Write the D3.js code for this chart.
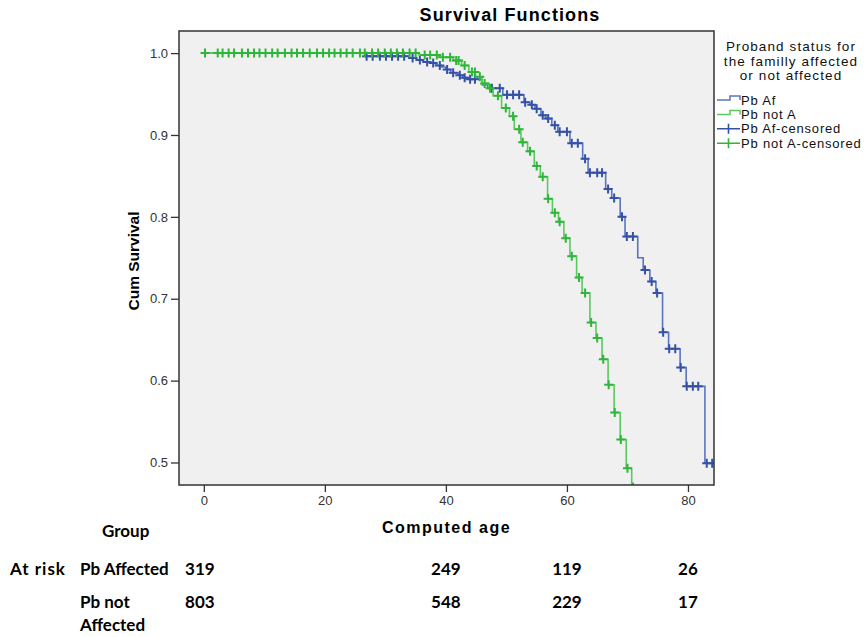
<!DOCTYPE html>
<html>
<head>
<meta charset="utf-8">
<script src="https://cdn.jsdelivr.net/npm/d3@7"></script>
<style>
    body{margin:0;background:#fff;}
    svg{display:block;}
</style>
</head>
<body>
<div class="chart-container"></div>
<script>

//step events: [age, survival after the drop]
const affectedEvents = [
    [26.6,0.9963],[34.0,0.9939],[35.2,0.9915],[36.2,0.989],[37.4,0.988],[38.3,0.985],
    [39.2,0.983],[40.0,0.980],[40.8,0.976],[42.0,0.973],[42.8,0.970],[43.6,0.968],
    [46.0,0.961],[46.9,0.957],[49.4,0.949],[52.9,0.940],[53.9,0.937],[54.7,0.932],
    [55.7,0.924],[56.5,0.920],[57.5,0.912],[58.5,0.904],[60.5,0.890],[62.6,0.871],
    [63.5,0.854],[66.4,0.834],[67.4,0.823],[68.8,0.800],[69.6,0.776],[71.7,0.750],
    [72.6,0.735],[73.7,0.721],[74.7,0.707],[75.8,0.659],[76.8,0.639],[78.7,0.616],
    [79.7,0.593],[82.8,0.499]
];
const affectedCensored = [
    26.9,27.9,29.1,30.1,31.1,32.1,33.1,34.5,35.7,36.9,37.9,39.0,40.2,41.2,42.3,43.1,
    44.0,44.8,47.6,48.9,50.1,51.1,52.1,53.1,54.2,55.0,56.0,56.9,58.0,58.8,60.0,60.8,
    61.8,63.0,63.8,65.0,65.8,66.8,67.8,69.1,69.9,70.9,72.9,74.0,74.9,75.9,76.9,77.9,
    78.8,79.8,80.8,81.7,83.1,84.0
];
const notAffectedEvents = [
    [35.5,0.9976],[38.8,0.995],[41.2,0.991],[42.6,0.985],[43.8,0.977],[44.9,0.971],
    [46.0,0.963],[47.1,0.957],[47.8,0.948],[49.2,0.933],[50.5,0.923],[51.3,0.907],
    [52.4,0.891],[53.5,0.880],[54.6,0.862],[55.6,0.849],[56.8,0.822],[57.6,0.805],
    [58.6,0.794],[59.5,0.774],[60.5,0.752],[61.6,0.726],[62.5,0.707],[63.8,0.671],
    [64.8,0.652],[65.8,0.626],[66.8,0.595],[67.8,0.561],[68.8,0.528],[69.8,0.493],
    [70.7,0.470]
];
const notAffectedCensored = [
    0.2,2.3,3.1,4.1,5.0,6.3,7.3,8.3,9.2,10.2,11.3,12.2,13.4,14.5,15.4,16.4,17.5,18.7,
    19.7,20.7,21.6,22.6,23.6,24.6,25.8,26.6,27.8,28.8,29.9,30.9,31.9,32.9,34.0,35.0,
    36.5,37.4,38.5,39.5,40.7,41.7,42.1,43.1,44.3,44.8,45.6,46.4,47.3,48.6,49.9,51.1,
    52.1,52.7,53.9,55.0,56.0,56.9,58.0,58.8,59.8,60.8,62.0,63.0,64.0,65.0,66.0,66.9,
    67.9,68.9,70.0,70.9
];

const yTicks = [0.5,0.6,0.7,0.8,0.9,1.0];
const xTicks = [0,20,40,60,80];
const legendTitle = ['Proband status for','the familly affected','or not affected'];
const legendLabels = ['Pb Af','Pb not A','Pb Af-censored','Pb not A-censored'];

//at risk table
const riskAges = [0,40,60,80];
const riskAffected = [319,249,119,26];
const riskNotAffected = [803,548,229,17];

const W = 866, H = 637;
const plot = {l:179,r:714,t:31,b:485};
const blueLine = '#5b74bf', blueMark = '#3551a6';
const greenLine = '#5cc862', greenMark = '#2fb53a';
const arial = '"Liberation Sans", Arial, sans-serif';
const calibri = 'Lato, "Open Sans", sans-serif';

const svg = d3.select('.chart-container').append('svg')
    .attr('width',W)
    .attr('height',H);

const scaleX = d3.scaleLinear().domain([-4.1,84.3]).range([plot.l,plot.r]);
const scaleY = d3.scaleLinear().domain([0.4725,1.027]).range([plot.b,plot.t]);

//plot background
svg.append('rect')
    .attr('x',plot.l).attr('y',plot.t)
    .attr('width',plot.r-plot.l).attr('height',plot.b-plot.t)
    .attr('fill','#f0f0f0');

svg.append('clipPath').attr('id','plot-clip')
    .append('rect')
    .attr('x',plot.l).attr('y',plot.t)
    .attr('width',plot.r-plot.l).attr('height',plot.b-plot.t);

const inner = svg.append('g').attr('clip-path','url(#plot-clip)');

function stepValue(events,age){
    let s = 1;
    events.forEach(e => { if(e[0] <= age) s = e[1]; });
    return s;
}

const line = d3.line()
    .x(d => scaleX(d[0]))
    .y(d => scaleY(d[1]))
    .curve(d3.curveStepAfter);

function drawCurve(events,censored,lineColor,markColor,endAge){
    const pts = [[0,1]].concat(events);
    pts.push([endAge,events[events.length-1][1]]);
    inner.append('path')
        .datum(pts)
        .attr('d',line)
        .attr('fill','none')
        .attr('stroke',lineColor)
        .attr('stroke-width',1.6);
    const marks = inner.append('g');
    censored.forEach(a => {
        const cx = scaleX(a), cy = scaleY(stepValue(events,a));
        marks.append('path')
            .attr('d',`M${cx-4.5},${cy}H${cx+4.5}M${cx},${cy-4.5}V${cy+4.5}`)
            .attr('stroke',markColor)
            .attr('stroke-width',2);
    });
}

drawCurve(affectedEvents,affectedCensored,blueLine,blueMark,86);
drawCurve(notAffectedEvents,notAffectedCensored,greenLine,greenMark,73);

//frame
svg.append('rect')
    .attr('x',plot.l).attr('y',plot.t)
    .attr('width',plot.r-plot.l).attr('height',plot.b-plot.t)
    .attr('fill','none')
    .attr('stroke','#333')
    .attr('stroke-width',1.5);

//axes
const axisY = d3.axisLeft(scaleY).tickValues(yTicks).tickFormat(d3.format('.1f')).tickSize(8).tickPadding(3);
const gy = svg.append('g').attr('transform',`translate(${plot.l},0)`).call(axisY);
const axisX = d3.axisBottom(scaleX).tickValues(xTicks).tickSize(7).tickPadding(4);
const gx = svg.append('g').attr('transform',`translate(0,${plot.b})`).call(axisX);
[gy,gx].forEach(g => {
    g.select('.domain').remove();
    g.selectAll('line').attr('stroke','#333').attr('stroke-width',1.3);
    g.selectAll('text').attr('font-family',arial).attr('font-size',13).attr('fill','#333');
});

//titles
svg.append('text')
    .attr('x',510).attr('y',21)
    .attr('text-anchor','middle')
    .attr('font-family',arial).attr('font-weight','bold').attr('font-size',18)
    .attr('letter-spacing','1.1px')
    .text('Survival Functions');
svg.append('text')
    .attr('transform',`translate(139,${(plot.t+plot.b)/2+3}) rotate(-90)`)
    .attr('text-anchor','middle')
    .attr('font-family',arial).attr('font-weight','bold').attr('font-size',15.5)
    .text('Cum Survival');
svg.append('text')
    .attr('x',(plot.l+plot.r)/2).attr('y',533)
    .attr('text-anchor','middle')
    .attr('font-family',arial).attr('font-weight','bold').attr('font-size',16)
    .attr('letter-spacing','1.5px')
    .text('Computed age');

//legend
const legend = svg.append('g').attr('font-family',arial);
legend.selectAll('.lt').data(legendTitle).enter().append('text')
    .attr('x',791).attr('y',(d,i) => 51+i*14.5)
    .attr('text-anchor','middle')
    .attr('font-size',13.5)
    .attr('letter-spacing','1.1px')
    .attr('fill','#111')
    .text(d => d);
const legendColors = [[blueLine,blueMark],[greenLine,greenMark],[blueLine,blueMark],[greenLine,greenMark]];
legendLabels.forEach((lab,i) => {
    const y = 100 + i*14.4;
    if(i < 2){
        legend.append('path')
            .attr('d',`M717,${y}H730V${y-4}H740V${y}`)
            .attr('fill','none')
            .attr('stroke',legendColors[i][0])
            .attr('stroke-width',1.5);
    }else{
        legend.append('path')
            .attr('d',`M717,${y}H740M728.5,${y-5}V${y+5}`)
            .attr('stroke',legendColors[i][1])
            .attr('stroke-width',1.6);
    }
    legend.append('text')
        .attr('x',741).attr('y',y+4.5)
        .attr('font-size',13)
        .attr('letter-spacing','0.8px')
        .attr('fill','#111')
        .text(lab);
});

//at risk table
const table = svg.append('g')
    .attr('font-family',calibri).attr('font-weight','bold').attr('font-size',17).attr('fill','#000');
table.append('text').attr('x',102).attr('y',537).text('Group');
table.append('text').attr('x',10).attr('y',575).attr('letter-spacing','1px').text('At risk');
table.append('text').attr('x',80).attr('y',575).text('Pb Affected');
table.append('text').attr('x',80).attr('y',608).text('Pb not');
table.append('text').attr('x',80).attr('y',631).text('Affected');
table.selectAll('.ra').data(riskAffected).enter().append('text')
    .attr('x',(d,i) => scaleX(riskAges[i]) + (i === 0 ? -4 : 0))
    .attr('y',575)
    .attr('text-anchor','middle')
    .text(d => d);
table.selectAll('.rn').data(riskNotAffected).enter().append('text')
    .attr('x',(d,i) => scaleX(riskAges[i]) + (i === 0 ? -4 : 0))
    .attr('y',608)
    .attr('text-anchor','middle')
    .text(d => d);

</script>
</body>
</html>
